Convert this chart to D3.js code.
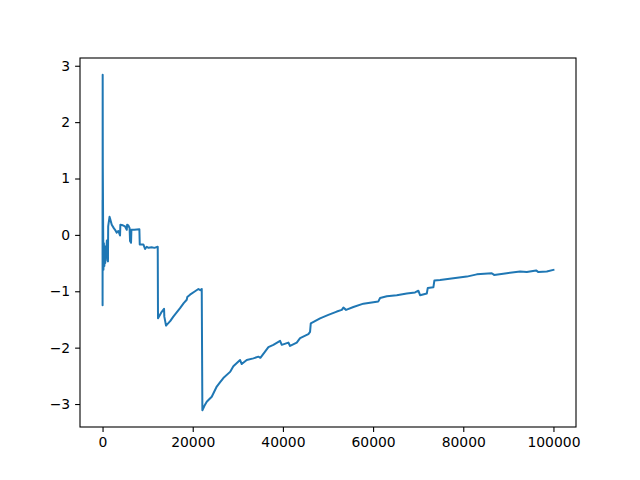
<!DOCTYPE html>
<html>
<head>
<meta charset="utf-8">
<script src="https://cdn.jsdelivr.net/npm/d3@7"></script>
<style>
  html, body { margin: 0; padding: 0; background: #fff; }
  svg { display: block; }
  .tick text { font-family: "DejaVu Sans", sans-serif; font-size: 13.9px; fill: #000; }
  .tick line { stroke: #000; stroke-width: 1.1px; }
</style>
</head>
<body>
<svg id="chart" width="640" height="480"></svg>
<script>
// Sample index (x) and running value (y)
const steps = [
  0, 10, 30, 60, 120, 200, 300, 400, 500, 600, 700, 800, 950, 1100, 1200, 1250, 1350, 1550, 1700,
  1800, 2040, 2500, 2770, 3150, 3500, 3880, 3950, 4500, 4990, 5370, 5450, 5720, 6000, 6100, 6320,
  6400, 7050, 8170, 8250, 9050, 9430, 9800, 10200, 10900, 11500, 12240, 12300, 13000, 13640, 13700,
  14080, 15000, 15700, 16400, 17190, 18000, 18670, 18800, 19400, 20520, 21260, 21700, 22000, 22140, 22600,
  23110, 23600, 24220, 25330, 26000, 26790, 28280, 29010, 30500, 30870, 31980, 33450, 34560, 35000, 36040,
  36780, 37880, 39370, 39750, 41210, 41590, 43070, 43810, 45650, 46020, 46180, 48240, 50080,
  51950, 53060, 53410, 54010, 55630, 57850, 61170, 61550, 63040, 65250, 67470, 69310, 70040,
  70420, 71910, 72130, 73370, 73590, 74860, 77810, 80780, 83000, 86320, 86840, 89650, 92600,
  94090, 96150, 96660, 98520, 100000
];
const values = [
  0.6, -1.25, 2.84, 1.2, 0.3, -0.62, -0.15, -0.55, -0.3, -0.5, -0.2, -0.4, -0.1, -0.45, -0.47, 0.15, 0.21, 0.32, 0.28,
  0.25, 0.18, 0.12, 0.09, 0.04, 0.07, -0.01, 0.18, 0.17, 0.15, 0.09, 0.18, 0.17, 0.12, -0.11, -0.14,
  0.09, 0.09, 0.1, -0.17, -0.17, -0.25, -0.21, -0.23, -0.22, -0.23, -0.21, -1.48, -1.38, -1.31, -1.45,
  -1.61, -1.53, -1.45, -1.38, -1.30, -1.21, -1.15, -1.10, -1.06, -1.0, -0.96, -0.98, -0.96, -3.11, -3.03,
  -2.96, -2.92, -2.87, -2.69, -2.62, -2.54, -2.43, -2.33, -2.22, -2.29, -2.22, -2.19, -2.16, -2.18, -2.07,
  -1.99, -1.95, -1.88, -1.95, -1.91, -1.97, -1.91, -1.83, -1.76, -1.72, -1.57, -1.48, -1.42,
  -1.36, -1.33, -1.29, -1.33, -1.28, -1.22, -1.18, -1.12, -1.09, -1.07, -1.04, -1.02, -0.99,
  -1.07, -1.04, -0.94, -0.93, -0.81, -0.80, -0.77, -0.74, -0.70, -0.68, -0.71, -0.68, -0.65,
  -0.66, -0.63, -0.66, -0.65, -0.62
];
const xTicks = [0, 20000, 40000, 60000, 80000, 100000];
const yTicks = [-3, -2, -1, 0, 1, 2, 3];

const W = 640, H = 480;
const margin = { left: 80, right: 64, top: 58, bottom: 53 };
const iw = W - margin.left - margin.right;
const ih = H - margin.top - margin.bottom;

const data = steps.map((s, i) => [s, values[i]]);

function padded(ext) {
  const d = ext[1] - ext[0];
  return [ext[0] - 0.05 * d, ext[1] + 0.05 * d];
}

const x = d3.scaleLinear().domain(padded(d3.extent(steps))).range([0, iw]);
const y = d3.scaleLinear().domain(padded(d3.extent(values))).range([ih, 0]);

const svg = d3.select("#chart");
const g = svg.append("g").attr("transform", `translate(${margin.left},${margin.top})`);

g.append("path")
  .datum(data)
  .attr("fill", "none")
  .attr("stroke", "#1f77b4")
  .attr("stroke-width", 2)
  .attr("stroke-linejoin", "round")
  .attr("stroke-linecap", "square")
  .attr("d", d3.line().x(d => x(d[0])).y(d => y(d[1])));

const xAxis = g.append("g")
  .attr("transform", `translate(0,${ih})`)
  .call(d3.axisBottom(x).tickValues(xTicks).tickFormat(d3.format("d")).tickSize(4.9).tickPadding(4.9));
xAxis.select(".domain").remove();

const yAxis = g.append("g")
  .call(d3.axisLeft(y).tickValues(yTicks).tickFormat(d3.format("d")).tickSize(4.9).tickPadding(4.9));
yAxis.select(".domain").remove();

g.append("rect")
  .attr("x", 0).attr("y", 0).attr("width", iw).attr("height", ih)
  .attr("fill", "none").attr("stroke", "#000").attr("stroke-width", 1.1);
</script>
</body>
</html>
